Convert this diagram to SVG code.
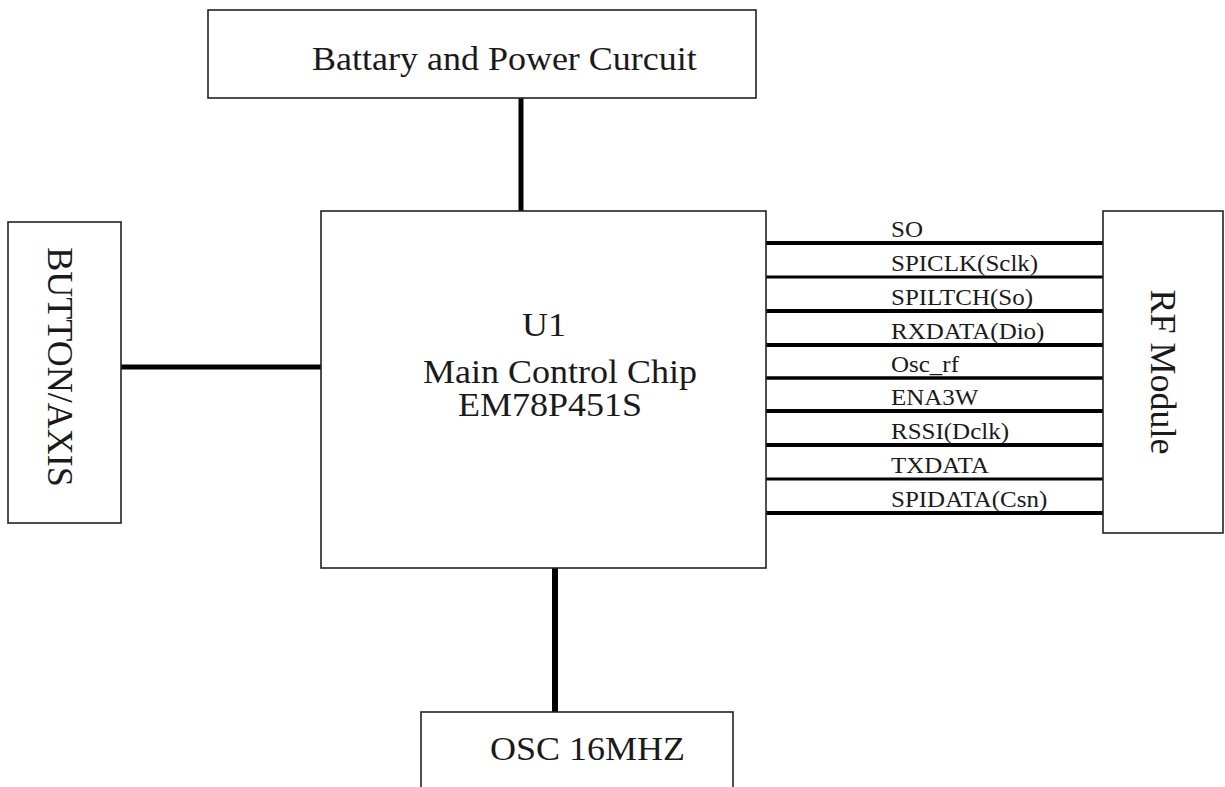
<svg xmlns="http://www.w3.org/2000/svg" width="1225" height="787" viewBox="0 0 1225 787">
<style>
.box{fill:#fff;stroke:#222;stroke-width:1.6}
.t{font-family:"Liberation Serif","Times New Roman",serif;fill:#1a1a1a}
.big{font-size:36px}
.sig{font-size:25px}
.w{stroke:#000;fill:none}
</style>
<rect width="1225" height="787" fill="#fff"/>
<g id="connectors">
<line class="w" x1="521" y1="98" x2="521" y2="212" stroke-width="5"/>
<line class="w" x1="121" y1="367" x2="321" y2="367" stroke-width="5"/>
<line class="w" x1="555" y1="555" x2="555" y2="712" stroke-width="6"/>
<line class="w" x1="766" y1="243" x2="1103" y2="243" stroke-width="4"/>
<line class="w" x1="766" y1="277" x2="1103" y2="277" stroke-width="3"/>
<line class="w" x1="766" y1="311" x2="1103" y2="311" stroke-width="4"/>
<line class="w" x1="766" y1="345" x2="1103" y2="345" stroke-width="4"/>
<line class="w" x1="766" y1="378" x2="1103" y2="378" stroke-width="3.5"/>
<line class="w" x1="766" y1="411" x2="1103" y2="411" stroke-width="4"/>
<line class="w" x1="766" y1="445" x2="1103" y2="445" stroke-width="4"/>
<line class="w" x1="766" y1="479" x2="1103" y2="479" stroke-width="3"/>
<line class="w" x1="766" y1="513" x2="1103" y2="513" stroke-width="4"/>
<g class="t sig">
<text transform="translate(891,237) scale(1,0.93)">SO</text>
<text transform="translate(891,271) scale(1,0.93)">SPICLK(Sclk)</text>
<text transform="translate(891,305) scale(1,0.93)">SPILTCH(So)</text>
<text transform="translate(891,339) scale(1,0.93)">RXDATA(Dio)</text>
<text transform="translate(891,372) scale(1,0.93)">Osc_rf</text>
<text transform="translate(891,405) scale(1,0.93)">ENA3W</text>
<text transform="translate(891,439) scale(1,0.93)">RSSI(Dclk)</text>
<text transform="translate(891,473) scale(1,0.93)">TXDATA</text>
<text transform="translate(891,507) scale(1,0.93)">SPIDATA(Csn)</text>
</g>
</g>
<g id="battery">
<rect class="box" x="208" y="10" width="548" height="88"/>
<text class="t big" transform="translate(312,70) scale(1,0.92)">Battary and Power Curcuit</text>
</g>
<g id="button">
<rect class="box" x="8" y="222" width="113" height="301"/>
<text class="t big" text-anchor="middle" transform="translate(48,367) rotate(90)">BUTTON/AXIS</text>
</g>
<g id="main">
<rect class="box" x="321" y="211" width="445" height="357"/>
<text class="t big" transform="translate(522,336) scale(1,0.92)">U1</text>
<text class="t big" transform="translate(423,383) scale(1,0.92)">Main Control Chip</text>
<text class="t big" transform="translate(458,416) scale(1,0.92)">EM78P451S</text>
</g>
<g id="rf">
<rect class="box" x="1103" y="211" width="120" height="322"/>
<text class="t big" text-anchor="middle" transform="translate(1151,372) rotate(90)">RF Module</text>
</g>
<g id="osc">
<rect class="box" x="421" y="712" width="312" height="90"/>
<text class="t big" transform="translate(490,760) scale(1,0.92)">OSC 16MHZ</text>
</g>
</svg>
